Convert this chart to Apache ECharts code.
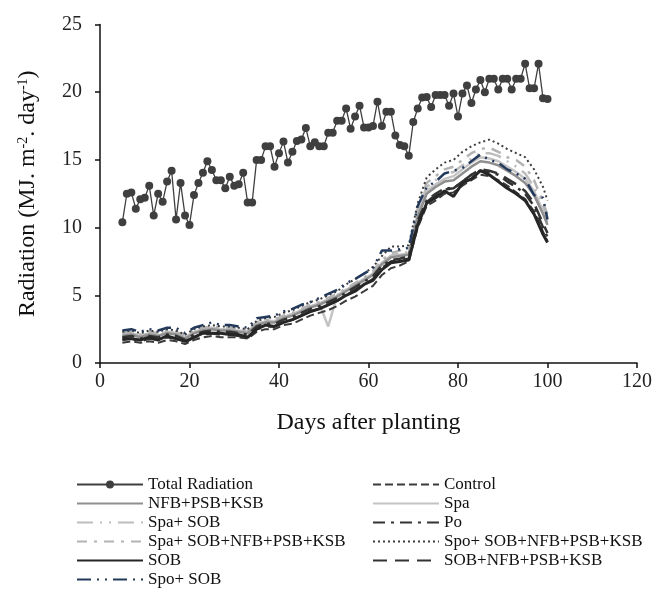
<!DOCTYPE html>
<html>
<head>
<meta charset="utf-8">
<script src="https://cdn.jsdelivr.net/npm/echarts@6/dist/echarts.min.js"></script>
<style>
  html, body { margin: 0; padding: 0; background: #fff; }
  #chart { width: 655px; height: 590px; }
</style>
</head>
<body>
<div id="chart"></div>
<script>
// ===== 数据 =====
const totalDays = [5,6,7,8,9,10,11,12,13,14,15,16,17,18,19,20,21,22,23,24,25,26,27,28,29,30,31,32,33,34,35,36,37,38,39,40,41,42,43,44,45,46,47,48,49,50,51,52,53,54,55,56,57,58,59,60,61,62,63,64,65,66,67,68,69,70,71,72,73,74,75,76,77,78,79,80,81,82,83,84,85,86,87,88,89,90,91,92,93,94,95,96,97,98,99,100];
const totalRadiation = [10.4,12.5,12.6,11.4,12.1,12.2,13.1,10.9,12.5,11.9,13.4,14.2,10.6,13.3,10.9,10.2,12.4,13.3,14.05,14.9,14.25,13.5,13.5,12.9,13.75,13.1,13.2,14.05,11.85,11.85,15.0,15.0,16.0,16.0,14.5,15.5,16.35,14.8,15.6,16.4,16.5,17.35,16.0,16.3,16.0,16.0,17.0,17.0,17.9,17.9,18.8,17.3,18.2,19.0,17.4,17.4,17.5,19.3,17.5,18.55,18.55,16.8,16.1,16.0,15.3,17.8,18.8,19.6,19.65,18.9,19.8,19.8,19.8,19.0,19.9,18.2,19.9,20.5,19.2,20.2,20.9,20.0,21.0,21.0,20.2,21.0,21.0,20.2,21.0,21.0,22.1,20.3,20.3,22.1,19.55,19.5];

const treatDays = [5,7,9,11,13,15,17,19,21,23,25,27,29,31,33,35,37,39,41,43,45,47,49,51,53,55,57,59,61,63,65,67,69,71,73,75,77,79,81,83,85,87,89,91,93,95,97,99,100];
const control = [1.5,1.6,1.5,1.6,1.5,1.7,1.6,1.4,1.7,1.9,2.0,1.9,1.9,1.9,1.8,2.3,2.5,2.5,2.8,2.9,3.2,3.5,3.7,3.9,4.2,4.6,4.9,5.3,5.7,6.5,7.0,7.2,7.5,10.0,11.6,12.0,12.5,12.6,13.1,13.5,13.9,13.8,13.5,13.1,12.6,12.1,11.2,9.7,9.0];
const nfbPsbKsb = [2.0,2.1,1.9,2.1,2.0,2.2,2.1,1.8,2.2,2.4,2.5,2.4,2.4,2.3,2.2,2.8,3.0,3.0,3.3,3.5,3.8,4.1,4.3,4.6,4.9,5.3,5.7,6.1,6.5,7.3,7.8,7.9,8.0,10.8,12.5,13.0,13.4,13.5,14.0,14.5,14.9,14.8,14.6,14.2,13.8,13.3,12.4,11.0,10.2];
const spa = [2.1,2.0,2.0,2.2,2.0,2.3,2.2,1.9,2.3,2.5,2.5,2.5,2.4,2.4,2.3,2.8,3.1,3.1,3.4,3.6,3.9,4.2,4.4,2.7,5.0,5.4,5.8,6.2,6.6,7.4,7.9,8.0,8.1,11.0,12.7,13.2,13.6,13.8,14.3,14.8,15.2,15.1,14.9,14.5,14.1,13.6,12.7,11.2,10.4];
const spaSob = [2.1,2.2,2.0,2.2,2.1,2.3,2.2,1.9,2.3,2.5,2.6,2.5,2.5,2.4,2.3,2.9,3.1,3.1,3.4,3.6,3.9,4.2,4.4,4.7,5.0,5.4,5.8,6.2,6.6,7.4,7.9,8.1,8.2,11.2,13.0,13.5,14.0,14.1,14.6,15.1,15.5,15.5,15.3,14.9,14.5,14.0,13.0,11.6,10.7];
const po = [1.9,2.0,1.8,2.0,1.9,2.1,2.0,1.7,2.1,2.3,2.4,2.3,2.3,2.2,2.1,2.7,2.9,2.9,3.2,3.4,3.7,4.0,4.2,4.5,4.8,5.2,5.6,6.0,6.4,7.2,7.6,7.7,7.9,10.5,12.0,12.5,12.9,12.9,13.4,13.9,14.2,14.1,13.9,13.4,13.0,12.5,11.6,10.0,9.3];
const spaSobNpk = [2.2,2.3,2.1,2.3,2.2,2.4,2.3,2.0,2.4,2.6,2.7,2.6,2.6,2.5,2.4,3.0,3.2,3.2,3.5,3.7,4.0,4.3,4.5,4.8,5.1,5.5,5.9,6.3,6.8,7.6,8.1,8.3,8.4,11.4,13.3,13.8,14.3,14.5,15.0,15.5,15.8,15.9,15.6,15.2,15.0,14.5,13.5,11.9,10.9];
const spoSobNpk = [2.3,2.4,2.2,2.4,2.3,2.5,2.4,2.1,2.5,2.7,2.8,2.7,2.7,2.6,2.5,3.1,3.3,3.4,3.7,3.9,4.2,4.5,4.7,5.0,5.3,5.8,6.2,6.6,7.1,7.9,8.6,8.6,8.7,11.8,13.7,14.3,14.8,15.0,15.6,16.0,16.3,16.5,16.2,15.8,15.5,15.2,14.3,13.0,12.0];
const sob = [1.8,1.8,1.7,1.9,1.7,2.0,1.8,1.6,1.9,2.2,2.2,2.2,2.1,2.1,1.9,2.5,2.8,2.7,3.0,3.2,3.5,3.8,4.0,4.3,4.6,5.0,5.3,5.8,6.1,6.9,7.4,7.5,7.6,10.2,11.8,12.2,12.7,12.3,13.3,13.6,14.2,13.9,13.4,12.9,12.5,12.0,11.0,9.5,8.9];
const sobNpk = [1.7,1.8,1.6,1.8,1.7,1.9,1.8,1.5,1.9,2.1,2.2,2.1,2.1,2.0,1.9,2.5,2.7,2.7,3.0,3.2,3.5,3.8,4.0,4.3,4.6,5.0,5.4,5.8,6.2,7.0,7.5,7.6,7.7,10.3,11.9,12.4,12.8,12.9,13.4,13.9,14.3,14.2,14.0,13.6,13.2,12.7,11.8,10.3,9.6];
const spoSob = [2.4,2.5,2.3,2.5,2.4,2.6,2.6,2.2,2.6,2.8,3.0,2.8,2.8,2.7,2.6,3.3,3.4,3.5,3.8,4.0,4.3,4.5,4.8,5.1,5.4,5.9,6.2,6.6,7.0,8.3,8.3,8.4,8.5,11.6,13.0,13.4,14.0,14.2,14.4,14.9,15.4,15.0,14.8,14.3,14.0,13.6,12.4,12.2,10.6];

const xTicks = { min: 0, max: 120, interval: 20 };
const yTicks = { min: 0, max: 25, interval: 5 };

const legendLeft = ['Total Radiation', 'NFB+PSB+KSB', 'Spa+ SOB', 'Spa+ SOB+NFB+PSB+KSB', 'SOB', 'Spo+ SOB'];
const legendRight = ['Control', 'Spa', 'Po', 'Spo+ SOB+NFB+PSB+KSB', 'SOB+NFB+PSB+KSB'];

// ===== 图表 =====
const FONT = 'Liberation Serif';

function pairs(xs, ys) {
  return xs.map(function (x, i) { return [x, ys[i]]; });
}

function treatLine(name, values, color, type, width) {
  return {
    name: name,
    type: 'line',
    data: pairs(treatDays, values),
    symbol: 'none',
    lineStyle: { color: color, width: width || 2, type: type },
    itemStyle: { color: color },
    z: 2
  };
}

// 图例：只有 Total Radiation 显示圆点
function legendItems(names) {
  return names.map(function (n) {
    return n === 'Total Radiation' ? { name: n } : { name: n, itemStyle: { opacity: 0 } };
  });
}

const chart = echarts.init(document.getElementById('chart'), null, { renderer: 'canvas' });

const legendBase = {
  orient: 'vertical',
  itemWidth: 66,
  itemHeight: 10,
  itemGap: 2,
  padding: 0,
  height: 130,
  textStyle: { fontFamily: FONT, fontSize: 17, color: '#111', lineHeight: 15 }
};

chart.setOption({
  animation: false,
  backgroundColor: '#fff',
  textStyle: { fontFamily: FONT },
  grid: { left: 100, right: 18, top: 24.5, bottom: 227 },
  legend: [
    Object.assign({}, legendBase, { data: legendItems(legendLeft), left: 76, top: 476 }),
    Object.assign({}, legendBase, { data: legendItems(legendRight), left: 372, top: 476 })
  ],
  xAxis: {
    type: 'value',
    min: xTicks.min, max: xTicks.max, interval: xTicks.interval,
    name: 'Days after planting',
    nameLocation: 'middle',
    nameGap: 48,
    nameTextStyle: { fontFamily: FONT, fontSize: 24, color: '#111' },
    axisLine: { lineStyle: { color: '#111', width: 1.5 } },
    axisTick: { show: true, length: 5, lineStyle: { color: '#111', width: 1.5 } },
    axisLabel: { fontFamily: FONT, fontSize: 20, color: '#222', margin: 9 },
    splitLine: { show: false }
  },
  yAxis: {
    type: 'value',
    min: yTicks.min, max: yTicks.max, interval: yTicks.interval,
    name: 'Radiation (MJ. m{sup|-2}. day{sup|-1})',
    nameLocation: 'middle',
    nameGap: 60,
    nameRotate: 90,
    nameTextStyle: {
      fontFamily: FONT, fontSize: 24, color: '#111',
      rich: { sup: { fontFamily: FONT, fontSize: 14, color: '#111', verticalAlign: 'top', padding: [0, 0, 10, 0] } }
    },
    axisLine: { show: true, lineStyle: { color: '#111', width: 1.5 } },
    axisTick: { show: true, length: 5, lineStyle: { color: '#111', width: 1.5 } },
    axisLabel: { fontFamily: FONT, fontSize: 20, color: '#222', margin: 18 },
    splitLine: { show: false }
  },
  series: [
    treatLine('Spa', spa, '#c4c4c4', 'solid', 2.5),
    treatLine('Spa+ SOB', spaSob, '#bdbdbd', [16, 7, 2, 7, 2, 7], 2.5),
    treatLine('Spa+ SOB+NFB+PSB+KSB', spaSobNpk, '#b3b3b3', [10, 7, 3, 7], 2.5),
    treatLine('NFB+PSB+KSB', nfbPsbKsb, '#8f8f8f', 'solid', 2.5),
    treatLine('Spo+ SOB+NFB+PSB+KSB', spoSobNpk, '#3d3d3d', [2, 3], 2),
    treatLine('Spo+ SOB', spoSob, '#23395b', [14, 6, 2, 6, 2, 6], 2.5),
    treatLine('SOB+NFB+PSB+KSB', sobNpk, '#333333', [14, 8], 2.5),
    treatLine('Po', po, '#333333', [12, 6, 3, 6], 2.5),
    treatLine('Control', control, '#3a3a3a', [8, 4], 2),
    treatLine('SOB', sob, '#262626', 'solid', 3),
    {
      name: 'Total Radiation',
      type: 'line',
      data: pairs(totalDays, totalRadiation),
      symbol: 'circle',
      symbolSize: 8,
      lineStyle: { color: '#3f3f3f', width: 1.3 },
      itemStyle: { color: '#3f3f3f' },
      z: 3
    }
  ]
});

window.addEventListener('resize', function () { chart.resize(); });
</script>
</body>
</html>
